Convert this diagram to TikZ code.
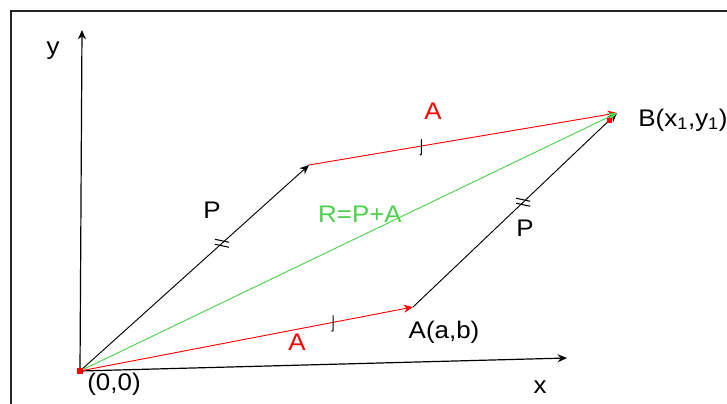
\documentclass[tikz,border=0pt]{standalone}
\usepackage{fontspec}
\setmainfont[FakeStretch=1.08]{Liberation Sans}
\usetikzlibrary{arrows.meta,decorations.markings}

\begin{document}
\begin{tikzpicture}[
    x=0.75pt, y=-0.75pt,
    vec/.style = {line width=0.7pt, -{Stealth[length=7pt,width=6pt]}},
    lbl/.style = {font=\fontsize{18}{21}\selectfont, inner sep=0pt},
    onetick/.style = {postaction={decorate, decoration={markings,
        mark=at position #1 with {\pgftransformresetnontranslations
          \draw[black, line width=0.8pt, -] (0,-7) -- (0,8) -- (-1.5,9);}}}},
    twotick/.style = {postaction={decorate, decoration={markings,
        mark=at position #1 with {\pgftransformresetnontranslations
          \draw[black, line width=0.8pt, -] (-7,-4) -- (7,-1) (-7,1) -- (7,4);}}}}
]
\useasboundingbox (0,0) rectangle (727,403);
\clip (0,0) rectangle (727,403);
\fill[white] (0,0) rectangle (727,403);
\draw[line width=1.5pt, black!85] (10.5,11.5) rectangle (760,430);

% points
\coordinate (O) at (80,371);
\coordinate (yend) at (82,30);
\coordinate (xend) at (567,358);
\coordinate (Apt) at (413,307);
\coordinate (Ptip) at (309,165);
\coordinate (B) at (617,113);

% axes
\draw[vec, line width=0.9pt] (O) -- (yend);
\draw[vec, line width=0.9pt] (O) -- (xend);

% vectors
\draw[vec, red, onetick=0.76] (O) -- (Apt);
\draw[vec, red, onetick=0.365] (Ptip) -- (B);
\draw[vec, black, twotick=0.62] (O) -- (Ptip);
\draw[vec, black, twotick=0.54] (Apt) -- (B);
\draw[vec, green!75!black!70!white] (O) -- (B);

\node (Odot) [fill=red, inner sep=0pt, minimum size=5pt] at (O) {};
\fill[red] (607,118) rectangle (612,123);

% labels
\node (ylbl) [lbl] at (53,51) {y};
\node (xlbl) [lbl] at (540,387) {x};
\node (olbl) [lbl] at (114,384) {(0,0)};
\node (albl) [lbl] at (444,332) {A(a,b)};
\node (blbl) [lbl] at (683,120) {B(x\textsubscript{1},y\textsubscript{1})};
\node (p1) [lbl] at (212,210) {P};
\node (p2) [lbl] at (525,228) {P};
\node (rlbl) [lbl, text=green!75!black!70!white] at (360,214) {R=P+A};
\node (a1) [lbl, text=red] at (433,111) {A};
\node (a2) [lbl, text=red] at (297,342) {A};
\end{tikzpicture}
\end{document}
